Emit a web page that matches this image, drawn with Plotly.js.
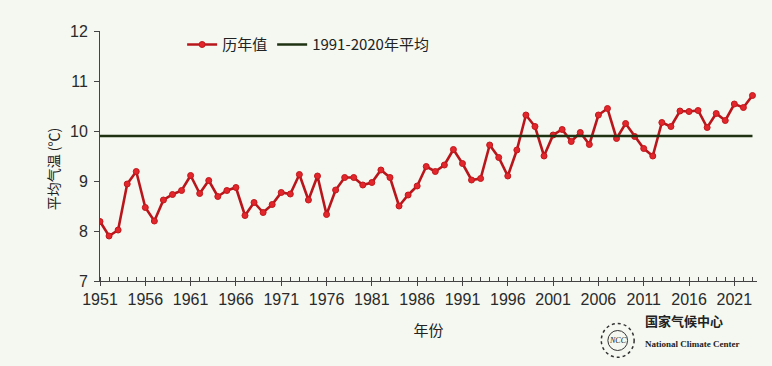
<!DOCTYPE html>
<html><head><meta charset="utf-8">
<script src="https://cdn.plot.ly/plotly-3.0.1.min.js"></script>
<style>html,body{margin:0;padding:0;background:#f4f8f1;}#chart{width:772px;height:366px;}</style>
</head><body><div id="chart"></div>
<script>
const years = [];
for (let y = 1951; y <= 2023; y++) years.push(y);
const temps = [
  8.19, 7.90, 8.02, 8.94, 9.19, 8.47, 8.20, 8.62, 8.73, 8.81,
  9.11, 8.75, 9.01, 8.69, 8.81, 8.87, 8.31, 8.57, 8.37, 8.53,
  8.77, 8.74, 9.13, 8.62, 9.10, 8.33, 8.82, 9.07, 9.07, 8.92,
  8.97, 9.22, 9.07, 8.50, 8.72, 8.90, 9.29, 9.19, 9.32, 9.63,
  9.35, 9.02, 9.05, 9.72, 9.47, 9.10, 9.62, 10.32, 10.09, 9.50,
  9.92, 10.03, 9.79, 9.97, 9.73, 10.32, 10.45, 9.85, 10.15, 9.89,
  9.65, 9.50, 10.17, 10.09, 10.40, 10.39, 10.41, 10.07, 10.35, 10.21,
  10.54, 10.47, 10.71
];
const normalValue = 9.9;
const normalSeries = years.map(() => normalValue);
const seriesNames = ['历年值', '1991-2020年平均'];
const yTicks = [7, 8, 9, 10, 11, 12];
const xTickVals = [1951,1956,1961,1966,1971,1976,1981,1986,1991,1996,2001,2006,2011,2016,2021];

const bg = '#f4f8f1';
const tickFont = {family: '"Liberation Sans Narrow", "Liberation Sans", Arial, sans-serif', size: 16, color: '#2a2a2a'};
const cjk = '"Noto Sans CJK SC", "Noto Sans", sans-serif';

const traces = [
  {x: years, y: temps, name: seriesNames[0], type: 'scatter', mode: 'lines+markers',
   line: {color: '#b8161b', width: 2.6},
   marker: {color: '#e3262b', size: 6, line: {color: '#c0181c', width: 1}}},
  {x: years, y: normalSeries, name: seriesNames[1], type: 'scatter', mode: 'lines',
   line: {color: '#1f3313', width: 2.6}}
];

const layout = {
  width: 772, height: 366,
  paper_bgcolor: bg, plot_bgcolor: bg,
  margin: {l: 100, r: 15, t: 31, b: 85},
  showlegend: true,
  legend: {orientation: 'h', x: 0.125, y: 0.945, xanchor: 'left', yanchor: 'middle',
           bgcolor: 'rgba(0,0,0,0)', font: {family: cjk, size: 15, color: '#222'},
           itemwidth: 30, tracegroupgap: 0},
  xaxis: {range: [1951, 2023.5], showgrid: false, zeroline: false,
          showline: true, linecolor: '#444', linewidth: 1,
          tickmode: 'array', tickvals: xTickVals, ticktext: xTickVals.map(String),
          ticks: 'outside', ticklen: 4, tickcolor: '#444', tickfont: tickFont,
          minor: {dtick: 1, tick0: 1951, ticks: 'inside', ticklen: 4, tickcolor: '#444', showgrid: false},
          title: {text: '年份', font: {family: cjk, size: 15, color: '#222'}, standoff: 18}},
  yaxis: {range: [7, 12], showgrid: false, zeroline: false,
          showline: true, linecolor: '#444', linewidth: 1,
          tickmode: 'array', tickvals: yTicks, ticktext: yTicks.map(String),
          ticks: 'outside', ticklen: 5, tickcolor: '#444', tickfont: tickFont,
          ticklabelstandoff: 3},
  annotations: [
    {text: '平均气温 (℃)', xref: 'paper', yref: 'paper', x: -0.09, y: 0.45,
     textangle: -90, showarrow: false, font: {family: cjk, size: 14, color: '#222'}},
    {text: '<b>国家气候中心</b>', xref: 'paper', yref: 'paper', x: 0.826, y: -0.205,
     xanchor: 'left', showarrow: false, font: {family: cjk, size: 13, color: '#222'}},
    {text: '<b>National Climate Center</b>', xref: 'paper', yref: 'paper', x: 0.826, y: -0.28,
     xanchor: 'left', showarrow: false, font: {family: '"Liberation Serif", serif', size: 9, color: '#222'}},
    {text: '<i>NCC</i>', xref: 'paper', yref: 'paper', x: 0.788, y: -0.238,
     xanchor: 'center', yanchor: 'middle',
     showarrow: false, font: {family: '"Liberation Serif", serif', size: 8, color: '#222'}}
  ],
  shapes: [
    {type: 'circle', xref: 'paper', yref: 'paper', x0: 0.763, x1: 0.813, y0: -0.305, y1: -0.17,
     line: {color: '#333', width: 1.5, dash: 'dot'}},
    {type: 'circle', xref: 'paper', yref: 'paper', x0: 0.773, x1: 0.803, y0: -0.278, y1: -0.198,
     line: {color: '#333', width: 1}}
  ]
};

Plotly.newPlot('chart', traces, layout, {displayModeBar: false, staticPlot: true});
</script></body></html>
